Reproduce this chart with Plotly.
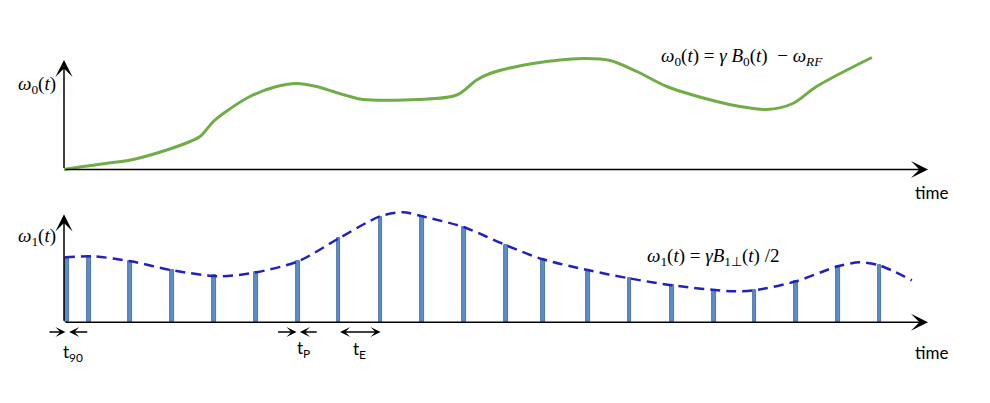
import plotly.graph_objects as go

# ---------------- data ----------------
# top panel: omega_0(t) (arbitrary units)
w0_t = [0.0, 0.46, 1.0, 1.66, 2.47, 3.03, 3.27, 3.59, 3.83, 4.47, 5.11, 5.59, 6.07, 6.47, 6.87, 7.19,
        8.48, 9.44, 9.92, 10.24, 11.27, 12.48, 13.13, 13.77, 14.49, 15.69, 16.25, 16.89, 17.52,
        18.09, 19.42]
w0_v = [0.0, 0.03, 0.06, 0.10, 0.195, 0.28, 0.33, 0.48, 0.56, 0.73, 0.83, 0.86, 0.83, 0.78, 0.73, 0.70,
        0.70, 0.745, 0.895, 0.96, 1.06, 1.11, 1.09, 0.98, 0.83, 0.68, 0.63, 0.60, 0.66,
        0.83, 1.12]

# bottom panel: RF pulses (times, amplitudes) and omega_1 envelope
pulse_t = [0.075, 0.6, 1.59, 2.6, 3.6, 4.61, 5.62, 6.6, 7.61, 8.61, 9.61, 10.62, 11.51, 12.6,
           13.59, 14.61, 15.62, 16.6, 17.6, 18.6, 19.6]
pulse_amp = [0.64, 0.66, 0.61, 0.52, 0.47, 0.50, 0.61, 0.84, 1.05, 1.06, 0.95, 0.77, 0.63, 0.52,
             0.44, 0.37, 0.32, 0.32, 0.41, 0.56, 0.57]
env_t = [0.02, 0.7, 1.61, 2.6, 3.75, 4.62, 5.63, 6.61, 7.6, 8.15, 8.61, 9.62, 10.63, 11.51,
         12.62, 13.58, 14.62, 16.08, 16.6, 17.6, 18.6, 19.13, 19.6, 20.38]
env_v = [0.65, 0.66, 0.61, 0.52, 0.46, 0.50, 0.61, 0.84, 1.06, 1.10, 1.06, 0.95, 0.77, 0.63,
         0.52, 0.44, 0.37, 0.31, 0.32, 0.41, 0.56, 0.60, 0.57, 0.42]

t_end = 20.77        # end of time axis
w0_top = 1.095       # top of omega_0 axis
w1_top = 1.08        # top of omega_1 axis

W, H = 990, 403
def px(x):
    return x / W
def py(y):
    return 1 - y / H

fig = go.Figure()

fig.add_trace(go.Scatter(x=w0_t, y=w0_v, mode="lines", yaxis="y2",
                         line=dict(color="#70AD47", width=3, shape="spline", smoothing=0.9),
                         hoverinfo="skip"))
fig.add_trace(go.Bar(x=pulse_t, y=pulse_amp, width=0.085,
                     marker=dict(color="#5B8DC8", line=dict(color="#3A6597", width=0.8)),
                     hoverinfo="skip"))
fig.add_trace(go.Scatter(x=env_t, y=env_v, mode="lines",
                         line=dict(color="#2121C2", width=2.5, dash="10px,6px",
                                   shape="spline", smoothing=0.8),
                         hoverinfo="skip"))

ann = []
def arrow(x, y, ax, ay, yref, w=1.5, size=1.9, side="end"):
    ann.append(dict(x=x, y=y, ax=ax, ay=ay, xref="x", yref=yref, axref="x", ayref=yref,
                    text="", showarrow=True, arrowhead=3, startarrowhead=3, arrowside=side,
                    arrowwidth=w, arrowsize=size, startarrowsize=size,
                    arrowcolor="black", standoff=0, startstandoff=0))

# axes (drawn as arrows)
arrow(t_end, 0, 0, 0, "y2")
arrow(0, w0_top, 0, 0, "y2")
arrow(t_end, 0, 0, 0, "y")
arrow(0, w1_top, 0, 0, "y")

# timing markers
ym = -0.097
arrow(pulse_t[0] - 0.04, ym, pulse_t[0] - 0.46, ym, "y", w=1.3, size=1.3)
arrow(pulse_t[0] + 0.05, ym, pulse_t[0] + 0.52, ym, "y", w=1.3, size=1.3)
arrow(pulse_t[6] - 0.03, ym, pulse_t[6] - 0.51, ym, "y", w=1.3, size=1.3)
arrow(pulse_t[6] + 0.05, ym, pulse_t[6] + 0.49, ym, "y", w=1.3, size=1.3)
arrow(pulse_t[8], ym, pulse_t[7], ym, "y", w=1.3, size=1.3, side="end+start")

def label(text, x, y, size=17, family="Lato", color="black"):
    ann.append(dict(text=text, x=px(x), y=py(y), xref="paper", yref="paper",
                    xanchor="center", yanchor="middle", showarrow=False,
                    font=dict(family=family, size=size, color=color)))

serif = "Liberation Serif"
label("<i>ω</i><sub>0</sub>(<i>t</i>)", 37, 85, size=19, family=serif)
label("<i>ω</i><sub>1</sub>(<i>t</i>)", 37, 237, size=19, family=serif)
label("<i>ω</i><sub>0</sub>(<i>t</i>) = <i>γ B</i><sub>0</sub>(<i>t</i>)  − <i>ω</i><sub><i>RF</i></sub>",
      742, 57, size=19, family=serif)
label("<i>ω</i><sub>1</sub>(<i>t</i>) = <i>γB</i><sub>1⊥</sub>(<i>t</i>) /2",
      713, 257, size=19, family=serif)
label("time", 931, 192)
label("time", 931, 352)
label("t<sub>90</sub>", 73, 353)
label("t<sub>P</sub>", 303, 349)
label("t<sub>E</sub>", 359, 350)

fig.update_layout(
    width=W, height=H, margin=dict(l=0, r=0, t=0, b=0),
    paper_bgcolor="white", plot_bgcolor="white", showlegend=False,
    xaxis=dict(domain=[0, 1], range=[-64 / 41.6, (W - 64) / 41.6], visible=False),
    yaxis=dict(domain=[0, 203 / H], range=[-0.807, 1.223], visible=False),
    yaxis2=dict(domain=[203 / H, 1], range=[-0.305, 1.695], visible=False, anchor="x"),
    annotations=ann,
    bargap=0,
)

fig.write_html("out.html")
